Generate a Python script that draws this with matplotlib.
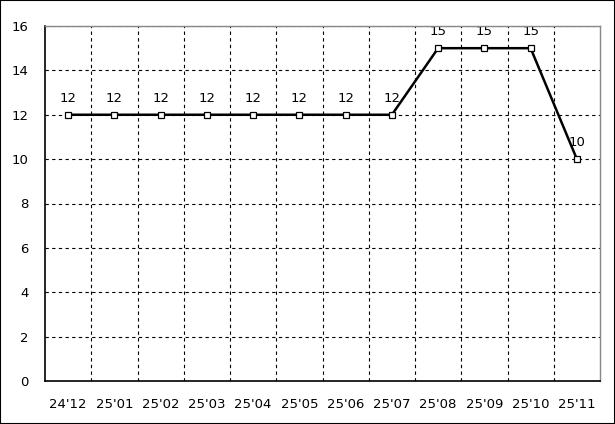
import numpy as np
import matplotlib.pyplot as plt
from matplotlib.patches import Rectangle

months = ["24'12", "25'01", "25'02", "25'03", "25'04", "25'05",
          "25'06", "25'07", "25'08", "25'09", "25'10", "25'11"]
values = [12, 12, 12, 12, 12, 12, 12, 12, 15, 15, 15, 10]

fig = plt.figure(figsize=(6.15, 4.24), dpi=100)
ax = fig.add_axes([45/615, 43/424, 555/615, 355/424])

x = np.arange(len(months))
ax.plot(x, values, color='black', lw=1.8, marker='s', ms=4.5,
        mfc='white', mec='black', mew=0.9, zorder=3)
for xi, v in zip(x, values):
    ax.text(xi, v + 0.45, str(v), ha='center', va='bottom', fontsize=9.5, zorder=2)

ax.set_xlim(-0.5, len(months) - 0.5)
ax.set_ylim(0, 16)
ax.set_yticks(range(0, 17, 2))
ax.set_xticks(x)
ax.set_xticklabels(months)
ax.set_xticks(np.arange(0.5, len(months) - 1, 1), minor=True)
ax.tick_params(axis='both', which='both', length=0, labelsize=9.5)
ax.tick_params(axis='y', pad=12)
ax.tick_params(axis='x', pad=12)

ax.grid(axis='y', which='major', color='black', lw=0.8, linestyle=(0, (3, 3)))
ax.grid(axis='x', which='minor', color='black', lw=0.8, linestyle=(0, (3, 3)))
ax.grid(axis='x', which='major', visible=False)

for s in ['left', 'bottom']:
    ax.spines[s].set_color('black')
    ax.spines[s].set_linewidth(1.2)
for s in ['top', 'right']:
    ax.spines[s].set_color('#888888')
    ax.spines[s].set_linewidth(1)

fig.patches.append(Rectangle((0, 0), 1, 1, transform=fig.transFigure,
                             fill=False, edgecolor='black', lw=1.5))

fig.savefig('out.png', dpi=100)
